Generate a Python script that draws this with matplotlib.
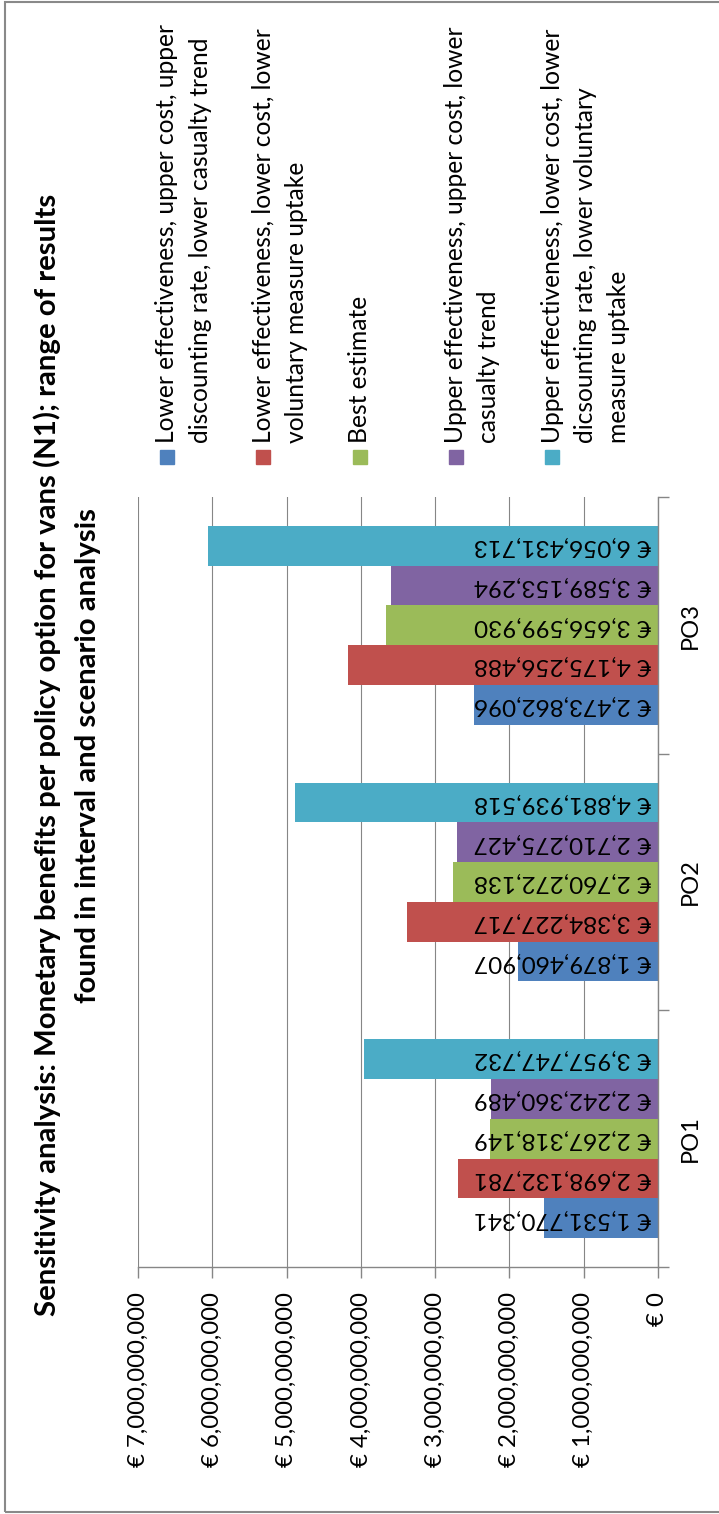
import matplotlib
matplotlib.use("Agg")
import matplotlib.pyplot as plt
from matplotlib.patches import Rectangle

# data
categories = ["PO1", "PO2", "PO3"]
series_names = [
    "Lower effectiveness, upper cost, upper\ndiscounting rate, lower casualty trend",
    "Lower effectiveness, lower cost, lower\nvoluntary measure uptake",
    "Best estimate",
    "Upper effectiveness, upper cost, lower\ncasualty trend",
    "Upper effectiveness, lower cost, lower\ndicsounting rate, lower voluntary\nmeasure uptake",
]
lower_eff_upper_cost = [1531770341, 1879460907, 2473862096]
lower_eff_lower_cost = [2698132781, 3384227717, 4175256488]
best_estimate = [2267318149, 2760272138, 3656599930]
upper_eff_upper_cost = [2242360489, 2710275427, 3589153294]
upper_eff_lower_cost = [3957747732, 4881939518, 6056431713]
series_values = [lower_eff_upper_cost, lower_eff_lower_cost, best_estimate,
                 upper_eff_upper_cost, upper_eff_lower_cost]
colors = ["#4F81BD", "#C0504D", "#9BBB59", "#8064A2", "#4BACC6"]
value_ticks = [0, 1e9, 2e9, 3e9, 4e9, 5e9, 6e9, 7e9]

W, H = 719, 1514
plt.rcParams['font.family'] = ['Lato', 'DejaVu Sans']
fig = plt.figure(figsize=(W / 100, H / 100), dpi=100)

# chart is drawn turned a quarter turn: value axis runs right-to-left
ax = fig.add_axes([138 / W, 1 - 1267 / H, (658 - 138) / W, (1267 - 497) / H])
bh = 0.155
for i, vals in enumerate(series_values):
    pos = [c + (i - 2) * bh for c in range(len(categories))]
    ax.barh(pos, vals, height=bh, color=colors[i], zorder=2)
    for p, v in zip(pos, vals):
        ax.text(1.0e8, p, "€ {:,}".format(v), rotation=180, ha='right', va='center',
                fontsize=17.5, color='black', zorder=3)

ax.set_xlim(7e9, 0)
ax.set_ylim(-0.5, 2.5)
ax.set_xticks(value_ticks)
ax.set_xticklabels(["€ 0"] + ["€ {:,}".format(int(t)) for t in value_ticks[1:]],
                   rotation=90, fontsize=17.3)
ax.tick_params(axis='x', length=8, width=1, color='#868686', pad=10)
ax.grid(axis='x', color='#868686', lw=0.8, zorder=0)

ax.yaxis.tick_right()
ax.set_yticks([-0.5, 0.5, 1.5, 2.5])
ax.set_yticklabels([])
ax.set_yticks(range(len(categories)), minor=True)
ax.set_yticklabels(categories, minor=True, rotation=90, fontsize=17, va='center')
ax.tick_params(axis='y', which='major', length=8, width=1, color='#868686')
ax.tick_params(axis='y', which='minor', length=0, pad=16)

for s in ['top', 'left']:
    ax.spines[s].set_visible(False)
for s in ['right', 'bottom']:
    ax.spines[s].set_color('#868686')
    ax.spines[s].set_linewidth(1)

# title
fig.text(47 / W, 1 - 755 / H,
         "Sensitivity analysis: Monetary benefits per policy option for vans (N1); range of results",
         rotation=90, ha='center', va='center', fontsize=21.2, fontweight='bold')
fig.text(88 / W, 1 - 755 / H, "found in interval and scenario analysis",
         rotation=90, ha='center', va='center', fontsize=21.2, fontweight='bold')

# legend, drawn by hand so it can be turned too
for i, name in enumerate(series_names):
    x0 = 167 + 96.3 * i
    fig.add_artist(Rectangle(((x0 - 7) / W, 1 - 464 / H), 14 / W, 14 / H,
                             transform=fig.transFigure, color=colors[i]))
    for k, line in enumerate(name.split("\n")):
        fig.text((x0 + 33 * k) / W, 1 - 443 / H, line, rotation=90,
                 ha='center', va='bottom', fontsize=17.7)

# outer frame
fig.add_artist(Rectangle((5 / W, 2 / H), 1, (1510) / H, transform=fig.transFigure,
                         fill=False, edgecolor='#898989', lw=1.5))

fig.savefig("out.png", dpi=100)
